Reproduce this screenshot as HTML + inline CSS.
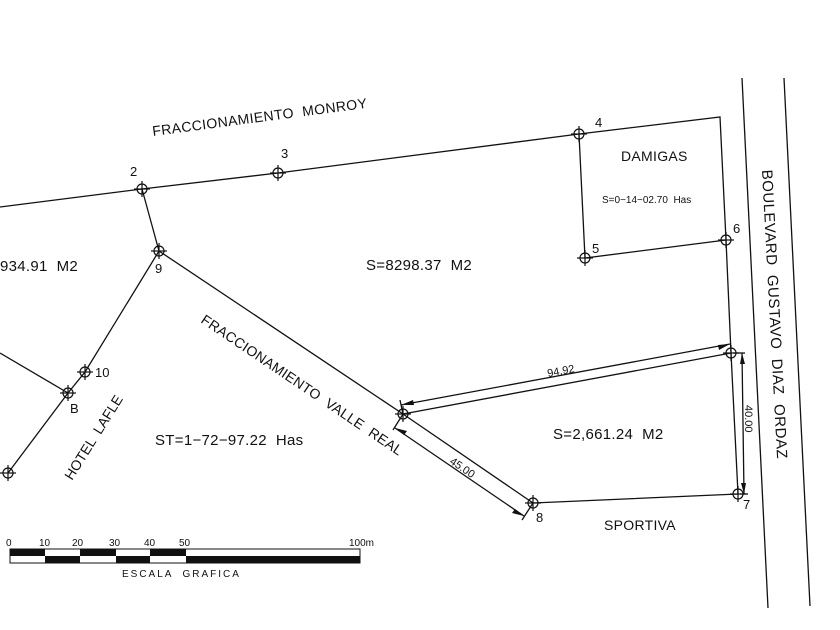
<!DOCTYPE html>
<html><head><meta charset="utf-8"><style>
html,body{margin:0;padding:0;background:#fff;}
svg{display:block;}
text{font-family:"Liberation Sans",sans-serif;fill:#111;white-space:pre;}
</style></head><body>
<svg width="840" height="630" viewBox="0 0 840 630" xmlns="http://www.w3.org/2000/svg">
<defs>
<g id="m"><circle r="5" fill="none" stroke="#111" stroke-width="1.2"/><line x1="-8" y1="0" x2="8" y2="0" stroke="#111" stroke-width="1.2"/><line x1="0" y1="-8" x2="0" y2="8" stroke="#111" stroke-width="1.2"/></g>
</defs>
<g stroke="#111" stroke-width="1.3" fill="none">
<polyline points="0,207 142,189 278,173 579,134 720,117 726,240 731,353 738,494"/>
<polyline points="579,134 585,258 726,240"/>
<polyline points="142,189 159,251 403,414 533,503 738,494"/>
<polyline points="159,251 85,372 68,393 8,473"/>
<line x1="0" y1="353" x2="68" y2="393"/>
<line x1="403" y1="414" x2="731" y2="353"/>
<line x1="742" y1="78" x2="768" y2="608"/>
<line x1="784" y1="78" x2="810" y2="606"/>
<line x1="401" y1="405" x2="730" y2="344"/>
<line x1="403" y1="414" x2="400" y2="400"/>
<line x1="395" y1="428" x2="524" y2="516"/>
<line x1="403" y1="414" x2="393" y2="430"/>
<line x1="533" y1="503" x2="522" y2="520"/>
<line x1="742" y1="353" x2="744" y2="494"/>
<line x1="733" y1="353" x2="745" y2="353"/>
<line x1="740" y1="494" x2="748" y2="494"/>
</g>
<g fill="#111">
<polygon points="401,405 413,400 414,405"/>
<polygon points="730,344 718,345 719,350"/>
<polygon points="395,428 407,431 404,435"/>
<polygon points="524,516 512,513 515,509"/>
<polygon points="742,353 740,364 745,364"/>
<polygon points="744,494 741,483 746,483"/>
</g>
<g>
<use href="#m" x="142" y="189"/><use href="#m" x="278" y="173"/><use href="#m" x="579" y="134"/>
<use href="#m" x="585" y="258"/><use href="#m" x="726" y="240"/><use href="#m" x="731" y="353"/>
<use href="#m" x="738" y="494"/><use href="#m" x="533" y="503"/><use href="#m" x="403" y="414"/>
<use href="#m" x="159" y="251"/><use href="#m" x="85" y="372"/><use href="#m" x="68" y="393"/><use href="#m" x="8" y="473"/>
</g>
<g font-size="13">
<text x="130" y="176">2</text><text x="281" y="158">3</text><text x="595" y="127">4</text>
<text x="592" y="253">5</text><text x="733" y="233">6</text><text x="743" y="509">7</text>
<text x="536" y="522">8</text><text x="155" y="273">9</text><text x="95" y="377">10</text><text x="70" y="413">B</text>
</g>
<text x="0" y="271" font-size="15" letter-spacing="0.3">934.91  M2</text>
<text x="366" y="270" font-size="15" letter-spacing="0.3">S=8298.37  M2</text>
<text x="553" y="439" font-size="15" letter-spacing="0.3">S=2,661.24  M2</text>
<text x="155" y="445" font-size="15" letter-spacing="0.3">ST=1−72−97.22  Has</text>
<text x="621" y="161" font-size="14" letter-spacing="0.3">DAMIGAS</text>
<text x="602" y="203" font-size="10">S=0−14−02.70  Has</text>
<text x="604" y="530" font-size="14" letter-spacing="0.3">SPORTIVA</text>
<text transform="translate(153,136) rotate(-7.5)" font-size="14" letter-spacing="0.4">FRACCIONAMIENTO  MONROY</text>
<text transform="translate(200,322) rotate(34)" font-size="14" letter-spacing="0.3">FRACCIONAMIENTO  VALLE  REAL</text>
<text transform="translate(72,481) rotate(-58)" font-size="14">HOTEL  LAFLE</text>
<text transform="translate(762,170) rotate(87)" font-size="15" letter-spacing="0.5">BOULEVARD  GUSTAVO  DIAZ  ORDAZ</text>
<text transform="translate(548,377) rotate(-10.5)" font-size="11">94.92</text>
<text transform="translate(449,463) rotate(34)" font-size="11">45.00</text>
<text transform="translate(745,405) rotate(90)" font-size="11">40.00</text>
<g font-size="10"><text x="6" y="546">0</text><text x="39" y="546">10</text><text x="72" y="546">20</text><text x="109" y="546">30</text><text x="144" y="546">40</text><text x="179" y="546">50</text><text x="349" y="546">100m</text></g>
<rect x="10" y="549" width="350" height="14" fill="#fff" stroke="#111" stroke-width="1"/>
<g fill="#111">
<rect x="10" y="549" width="35" height="7"/><rect x="80" y="549" width="36" height="7"/><rect x="150" y="549" width="36" height="7"/>
<rect x="45" y="556" width="35" height="7"/><rect x="116" y="556" width="34" height="7"/><rect x="186" y="556" width="174" height="7"/>
</g>
<text x="122" y="577" font-size="10" letter-spacing="2">ESCALA  GRAFICA</text>
</svg>
</body></html>
